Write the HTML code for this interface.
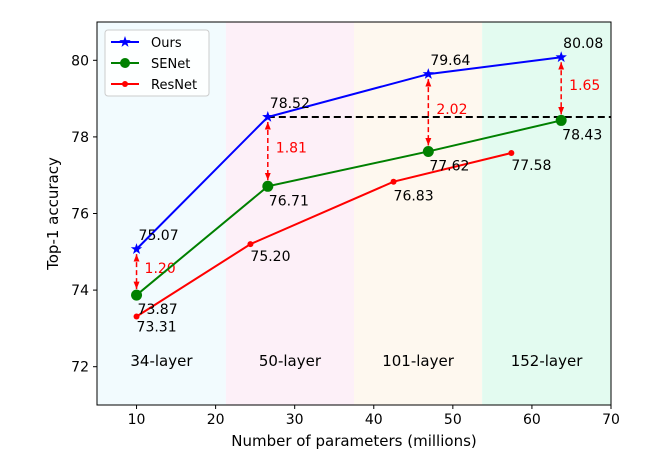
<!DOCTYPE html>
<html><head><meta charset="utf-8"><style>
body{margin:0;background:#fff;}
svg{font-family:"DejaVu Sans","Liberation Sans",sans-serif;}
</style></head><body>
<svg id="c" width="668" height="465" viewBox="0 0 668 465" xmlns="http://www.w3.org/2000/svg"></svg>
<script>
const seriesNames=["Ours","SENet","ResNet"];
const oursX=[10.0,26.6,46.9,63.7];
const oursY=[75.07,78.52,79.64,80.08];
const senetX=[10.0,26.6,46.9,63.7];
const senetY=[73.87,76.71,77.62,78.43];
const resnetX=[10.0,24.4,42.5,57.4];
const resnetY=[73.31,75.20,76.83,77.58];
const gapLabels=["1.20","1.81","2.02","1.65"];
const bandLabels=["34-layer","50-layer","101-layer","152-layer"];
const bandEdges=[5,21.3,37.5,53.7,70];
const xTicks=[10,20,30,40,50,60,70];
const yTicks=[72,74,76,78,80];

const L=97,R=611,T=22,B=405,X0=5,X1=70,Y0=71,Y1=81;
const sx=v=>L+(v-X0)/(X1-X0)*(R-L);
const sy=v=>B-(v-Y0)/(Y1-Y0)*(B-T);
const svg=document.getElementById('c');
const NS="http://www.w3.org/2000/svg";
function mk(tag,at,parent){const e=document.createElementNS(NS,tag);for(const k in at)e.setAttribute(k,at[k]);(parent||svg).appendChild(e);return e;}
function txt(s,x,y,at){const e=mk('text',Object.assign({x:x,y:y,'font-size':14},at||{}));e.textContent=s;return e;}

const defs=mk('defs',{});
const mkr=mk('marker',{id:'ah',viewBox:'0 0 10 10',refX:10,refY:5,markerWidth:5,markerHeight:5,orient:'auto-start-reverse'},defs);
mk('path',{d:'M0,1 L10,5 L0,9 z',fill:'red'},mkr);

const bandColors=["#f2fbfe","#fdf0f8","#fef8ef","#e3fbf0"];
for(let i=0;i<4;i++){
  const r=mk('rect',{x:sx(bandEdges[i]),y:T,width:sx(bandEdges[i+1])-sx(bandEdges[i]),height:B-T,fill:bandColors[i]});
  
  
  const t=txt(bandLabels[i],(sx(bandEdges[i])+sx(bandEdges[i+1]))/2,366,{'text-anchor':'middle','font-size':15});
  
  
}
const hl=mk('line',{x1:sx(oursX[1]),x2:R,y1:sy(oursY[1]),y2:sy(oursY[1]),stroke:'#000','stroke-width':2,'stroke-dasharray':'7,4'});



for(let i=0;i<4;i++){
  const x=sx(oursX[i]);
  const a=mk('line',{x1:x,x2:x,y1:sy(oursY[i])+5,y2:sy(senetY[i])-6,stroke:'red','stroke-width':1.5,'stroke-dasharray':'5,3','marker-start':'url(#ah)','marker-end':'url(#ah)'});
  
  
  const t=txt(gapLabels[i],x+8,(sy(oursY[i])+sy(senetY[i]))/2+1,{fill:'red','font-size':14});
  
  
}

function star(cx,cy,r,fill){let p=[];for(let k=0;k<10;k++){const rr=k%2?r*0.4:r;const an=-Math.PI/2+k*Math.PI/5;p.push((cx+rr*Math.cos(an)).toFixed(1)+','+(cy+rr*Math.sin(an)).toFixed(1));}return mk('polygon',{points:p.join(' '),fill:fill});}

function series(xs,ys,color,kind,name){
  const pl=mk('polyline',{points:xs.map((v,i)=>sx(v)+','+sy(ys[i])).join(' '),fill:'none',stroke:color,'stroke-width':2});
  
  
  xs.forEach((v,i)=>{
    let m;
    if(kind==='star')m=star(sx(v),sy(ys[i]),6,color);
    else m=mk('circle',{cx:sx(v),cy:sy(ys[i]),r:kind==='big'?5.5:3,fill:color});
    
    
  });
}
series(resnetX,resnetY,'red','small','resnet');
series(senetX,senetY,'green','big','senet');
series(oursX,oursY,'blue','star','ours');

oursX.forEach((v,i)=>{const t=txt(oursY[i].toFixed(2),sx(v)+2,sy(oursY[i])-9);});
senetX.forEach((v,i)=>{const t=txt(senetY[i].toFixed(2),sx(v)+1,sy(senetY[i])+19);});
const rOff=[[0,15],[0,17],[0,19],[0,17]];
resnetX.forEach((v,i)=>{const t=txt(resnetY[i].toFixed(2),sx(v)+rOff[i][0],sy(resnetY[i])+rOff[i][1]);});

const fr=mk('rect',{x:L,y:T,width:R-L,height:B-T,fill:'none',stroke:'#000','stroke-width':1});


xTicks.forEach(v=>{mk('line',{x1:sx(v),x2:sx(v),y1:B,y2:B+4,stroke:'#000'});const t=txt(v,sx(v),B+19,{'text-anchor':'middle','font-size':14});});
yTicks.forEach(v=>{mk('line',{x1:L-4,x2:L,y1:sy(v),y2:sy(v),stroke:'#000'});const t=txt(v,L-8,sy(v)+5,{'text-anchor':'end','font-size':14});});
const xt=txt('Number of parameters (millions)',(L+R)/2,446,{'text-anchor':'middle','font-size':15});

const yt=txt('Top-1 accuracy',0,0,{'text-anchor':'middle','font-size':15,transform:'translate(58,'+((T+B)/2)+') rotate(-90)'});


const lg=mk('g',{});

mk('rect',{x:105,y:30,width:104,height:66,rx:3,fill:'#fff','fill-opacity':0.85,stroke:'#ccc'},lg);
const lc=['blue','green','red'];
seriesNames.forEach((n,i)=>{
  const y=42+i*21;
  const g=mk('g',{},lg);
  
  
  mk('line',{x1:111,x2:139,y1:y,y2:y,stroke:lc[i],'stroke-width':2},g);
  if(i===0){const s=star(125,y,6,'blue');g.appendChild(s);}
  else mk('circle',{cx:125,cy:y,r:i===1?5:3,fill:lc[i]},g);
  const t=txt(n,151,y+5,{'font-size':13});g.appendChild(t);
});
</script>
</body></html>
